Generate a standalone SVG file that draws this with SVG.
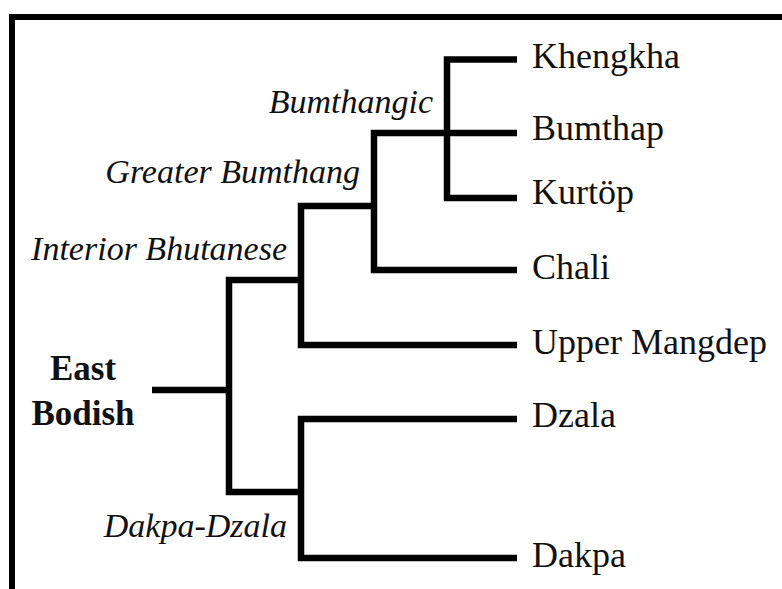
<svg xmlns="http://www.w3.org/2000/svg" width="782" height="589" viewBox="0 0 782 589">
<style>
.ln{fill:none;stroke:#000;stroke-width:6.5;stroke-linejoin:miter;stroke-linecap:butt}
.leaf{font-family:"Liberation Serif",serif;font-size:36px;fill:#111}
.clade{font-family:"Liberation Serif",serif;font-style:italic;font-size:34px;fill:#111;text-anchor:end}
.root{font-family:"Liberation Serif",serif;font-weight:bold;font-size:35px;fill:#111;text-anchor:middle}
</style>
<rect width="782" height="589" fill="#fff"/>
<path d="M12,589 V17 H782" fill="none" stroke="#000" stroke-width="6"/>
<g id="connectors">
<path class="ln" d="M152,390 H229"/>
<path class="ln" d="M301,280 H229 V492 H301"/>
<path class="ln" d="M374,206 H301 V345 H517"/>
<path class="ln" d="M447,133 H374 V270 H517"/>
<path class="ln" d="M517,59.5 H447 V198 H517"/>
<path class="ln" d="M447,133 H517"/>
<path class="ln" d="M517,419 H301 V558 H517"/>
</g>
<g id="east-bodish"><text class="root" x="83" y="380">East</text><text class="root" x="83" y="425">Bodish</text></g>
<g id="interior-bhutanese"><text class="clade" x="287" y="260">Interior Bhutanese</text></g>
<g id="greater-bumthang"><text class="clade" x="360" y="183">Greater Bumthang</text></g>
<g id="bumthangic"><text class="clade" x="433" y="113">Bumthangic</text></g>
<g id="dakpa-dzala"><text class="clade" x="287" y="537">Dakpa-Dzala</text></g>
<g id="khengkha"><text class="leaf" x="532" y="68">Khengkha</text></g>
<g id="bumthap"><text class="leaf" x="532" y="140">Bumthap</text></g>
<g id="kurtop"><text class="leaf" x="532" y="204">Kurtöp</text></g>
<g id="chali"><text class="leaf" x="532" y="279">Chali</text></g>
<g id="upper-mangdep"><text class="leaf" x="532" y="354">Upper Mangdep</text></g>
<g id="dzala"><text class="leaf" x="532" y="427">Dzala</text></g>
<g id="dakpa"><text class="leaf" x="532" y="567">Dakpa</text></g>
</svg>
